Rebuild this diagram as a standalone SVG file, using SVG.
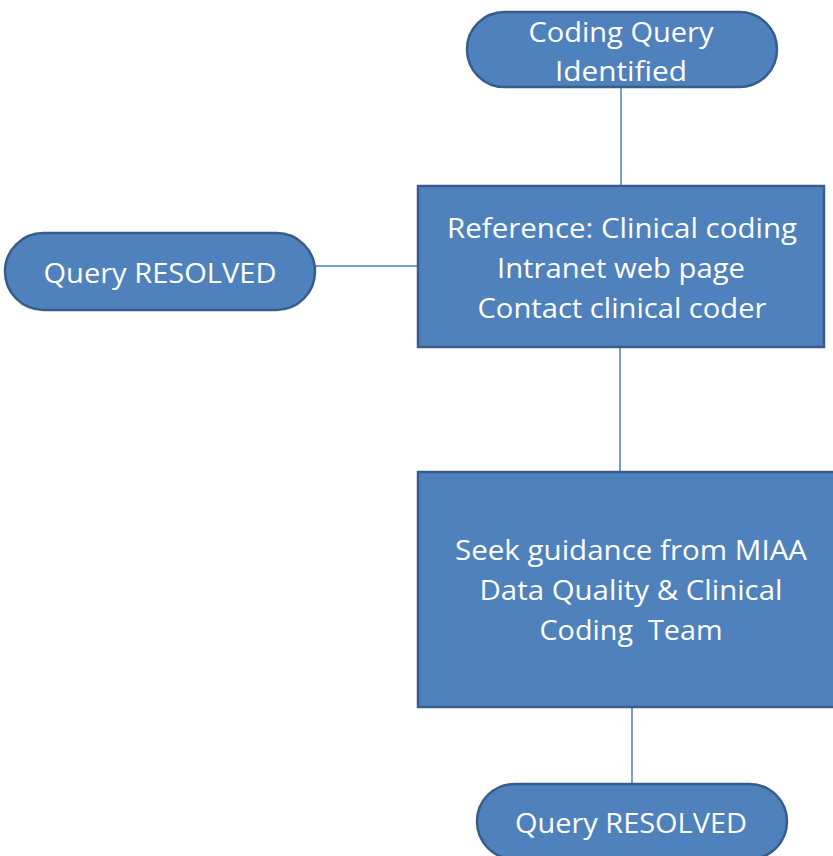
<svg xmlns="http://www.w3.org/2000/svg" width="833" height="856" viewBox="0 0 833 856">
<style>
.shape{fill:#4F81BD;stroke:#385D8A;stroke-width:2.5}
.lbl{fill:#FFFFFF;font-family:"Open Sans","Liberation Sans",sans-serif;font-size:28px;text-anchor:middle;white-space:pre}
.conn{stroke:#4A7EBB;stroke-width:1.5;fill:none}
</style>
<rect width="833" height="856" fill="#FFFFFF"/>
<g id="connectors">
<line class="conn" x1="621" y1="87" x2="621" y2="186"/>
<line class="conn" x1="315" y1="266" x2="418" y2="266"/>
<line class="conn" x1="620" y1="347" x2="620" y2="472"/>
<line class="conn" x1="632" y1="707" x2="632" y2="784"/>
</g>
<g id="start">
<rect class="shape" x="467" y="12" width="310" height="75" rx="37.5" ry="37.5"/>
<text class="lbl" x="621" y="42" textLength="185" lengthAdjust="spacingAndGlyphs">Coding Query</text>
<text class="lbl" x="621" y="81" textLength="132" lengthAdjust="spacingAndGlyphs">Identified</text>
</g>
<g id="reference">
<rect class="shape" x="418" y="186" width="406" height="161"/>
<text class="lbl" x="622" y="238" textLength="350" lengthAdjust="spacingAndGlyphs">Reference: Clinical coding</text>
<text class="lbl" x="621" y="278" textLength="248" lengthAdjust="spacingAndGlyphs">Intranet web page</text>
<text class="lbl" x="622" y="318" textLength="289" lengthAdjust="spacingAndGlyphs">Contact clinical coder</text>
</g>
<g id="resolved-left">
<rect class="shape" x="5" y="233" width="310" height="77" rx="38.5" ry="38.5"/>
<text class="lbl" x="160" y="283" textLength="233" lengthAdjust="spacingAndGlyphs">Query RESOLVED</text>
</g>
<g id="guidance">
<rect class="shape" x="418" y="472" width="418" height="235"/>
<text class="lbl" x="631" y="560" textLength="352" lengthAdjust="spacingAndGlyphs">Seek guidance from MIAA</text>
<text class="lbl" x="631" y="600" textLength="303" lengthAdjust="spacingAndGlyphs">Data Quality &amp; Clinical</text>
<text class="lbl" x="631" y="640" textLength="183" lengthAdjust="spacingAndGlyphs" xml:space="preserve">Coding  Team</text>
</g>
<g id="resolved-bottom">
<rect class="shape" x="477" y="784" width="310" height="75" rx="37.5" ry="37.5"/>
<text class="lbl" x="631" y="833" textLength="232" lengthAdjust="spacingAndGlyphs">Query RESOLVED</text>
</g>
</svg>
